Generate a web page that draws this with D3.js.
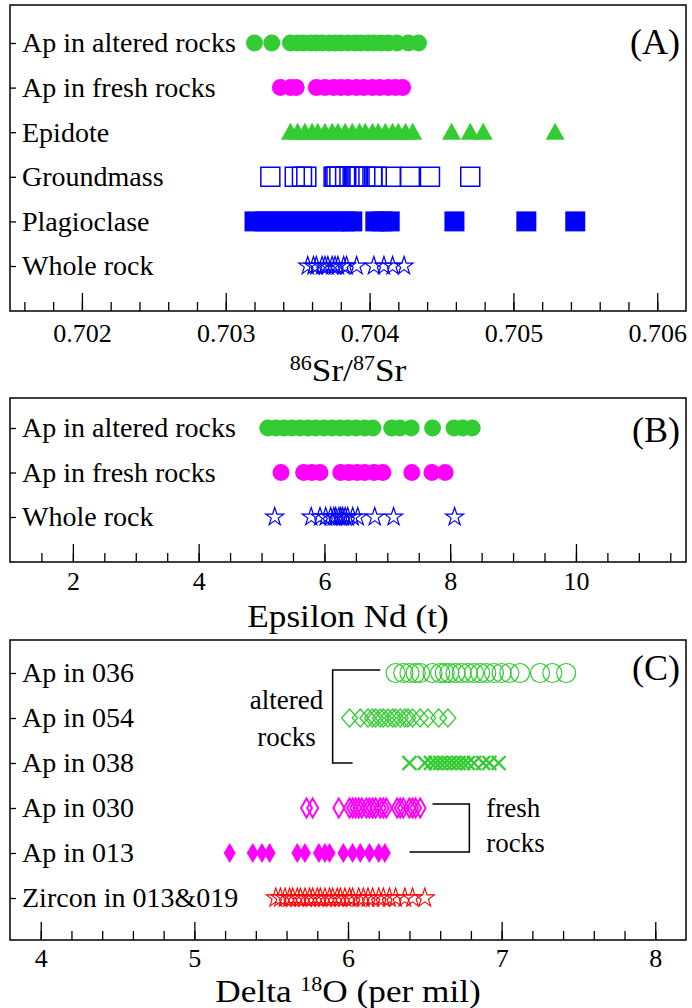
<!DOCTYPE html>
<html><head><meta charset="utf-8">
<script src="https://cdn.jsdelivr.net/npm/d3@7"></script>
<style>body{margin:0;background:#fff} svg text{font-family:"Liberation Serif","Times New Roman",Times,"Nimbus Roman","DejaVu Serif",serif !important;fill:#000}</style>
</head><body><svg id="c" width="692" height="1008"></svg>
<script>
// ---------- DATA ----------
const srCategories = ["Ap in altered rocks","Ap in fresh rocks","Epidote","Groundmass","Plagioclase","Whole rock"];
const srApAltered = [0.70320,0.70332,0.70345,0.70350,0.70354,0.70359,0.70363,0.70367,0.70372,0.70376,0.70380,0.70385,0.70390,0.70394,0.70399,0.70403,0.70408,0.70413,0.70419,0.70427,0.70434];
const srApFresh = [0.70338,0.70345,0.70349,0.70363,0.70369,0.70375,0.70380,0.70385,0.70391,0.70396,0.70402,0.70407,0.70413,0.70418,0.70423];
const srEpidote = [0.70345,0.70350,0.70355,0.70360,0.70364,0.70369,0.70374,0.70378,0.70383,0.70388,0.70393,0.70397,0.70402,0.70406,0.70411,0.70416,0.70420,0.70425,0.70430,0.70457,0.70470,0.70479,0.70529];
const srGroundmass = [0.70331,0.70348,0.70353,0.70356,0.70375,0.70376,0.70377,0.70379,0.70383,0.70386,0.70390,0.70391,0.70393,0.70397,0.70402,0.70405,0.70415,0.70428,0.70442,0.70470];
const srPlagioclase = [0.70320,0.70327,0.70334,0.70341,0.70348,0.70355,0.70362,0.70369,0.70376,0.70383,0.70388,0.70404,0.70409,0.70414,0.70459,0.70509,0.70543];
const srWholeRock = [0.70357,0.70361,0.70363,0.70367,0.70369,0.70371,0.70374,0.70376,0.70378,0.70382,0.70384,0.70391,0.70403,0.70410,0.70416,0.70424];
const srTicks = [0.702,0.703,0.704,0.705,0.706];

const ndCategories = ["Ap in altered rocks","Ap in fresh rocks","Whole rock"];
const ndApAltered = [5.10,5.23,5.36,5.48,5.61,5.74,5.86,5.99,6.12,6.25,6.37,6.50,6.64,6.77,7.07,7.20,7.38,7.72,8.06,8.20,8.35];
const ndApFresh = [5.31,5.67,5.80,5.93,6.26,6.39,6.52,6.64,6.79,6.93,7.39,7.71,7.92];
const ndWholeRock = [5.21,5.79,5.93,6.02,6.10,6.15,6.18,6.23,6.26,6.29,6.33,6.37,6.45,6.53,6.80,7.10,8.07];
const ndTicks = [2,4,6,8,10];

const oCategories = ["Ap in 036","Ap in 054","Ap in 038","Ap in 030","Ap in 013","Zircon in 013&019"];
const oAp036 = [6.31,6.36,6.40,6.44,6.47,6.55,6.60,6.63,6.66,6.70,6.74,6.78,6.82,6.86,6.90,6.95,7.00,7.05,7.12,7.25,7.33,7.42];
const oAp054 = [6.01,6.08,6.13,6.16,6.18,6.21,6.23,6.26,6.29,6.31,6.34,6.37,6.39,6.42,6.47,6.52,6.59,6.65];
const oAp038 = [6.40,6.50,6.54,6.57,6.60,6.63,6.66,6.69,6.72,6.75,6.78,6.82,6.88,6.92,6.98];
const oAp030 = [5.73,5.77,5.94,6.01,6.03,6.05,6.07,6.09,6.12,6.14,6.16,6.18,6.21,6.23,6.25,6.32,6.34,6.36,6.40,6.42,6.44,6.47];
const oAp013 = [5.23,5.38,5.44,5.49,5.67,5.72,5.81,5.85,5.88,5.97,6.03,6.08,6.14,6.20,6.24];
const oZircon = [5.53,5.56,5.59,5.62,5.64,5.67,5.69,5.72,5.75,5.77,5.80,5.82,5.85,5.88,5.90,5.93,5.95,5.98,6.01,6.03,6.07,6.10,6.13,6.16,6.20,6.23,6.27,6.31,6.37,6.42,6.50];
const oTicks = [4,5,6,7,8];

// ---------- SHAPES ----------
const GREEN = "#33cc33", MAGENTA = "#ff00ff", BLUE = "#0000ff", RED = "#ff0000";
const FONT = '"Liberation Serif","Times New Roman",Times,serif';
function starPath(R){ const r=R*0.382; let p=""; for(let i=0;i<10;i++){const a=-Math.PI/2+i*Math.PI/5; const rr=i%2?r:R; p+=(i?"L":"M")+(rr*Math.cos(a)).toFixed(2)+","+(rr*Math.sin(a)).toFixed(2);} return p+"Z"; }
function diamondPath(w,h){ return `M0,${-h/2}L${w/2},0L0,${h/2}L${-w/2},0Z`; }
function trianglePath(w,h){ return `M0,${-h*0.55}L${w/2},${h*0.45}L${-w/2},${h*0.45}Z`; }
function squarePath(s){ return `M${-s/2},${-s/2}h${s}v${s}h${-s}Z`; }
function circlePath(r){ return `M${r},0A${r},${r} 0 1,1 ${-r},0A${r},${r} 0 1,1 ${r},0Z`; }
function crossPath(s){ const h=s/2; return `M${-h},${-h}L${h},${h}M${h},${-h}L${-h},${h}`; }

const svg = d3.select("#c");
const L = 10, R = 686;

function panel(cfg){
  const g = svg.append("g");
  const x = d3.scaleLinear().domain(cfg.domain).range([L,R]);
  const y = d3.scalePoint().domain(cfg.categories).range(cfg.rowRange);
  cfg.series.forEach(s=>{
    g.append("g").selectAll("path").data(s.values).join("path")
      .attr("d", s.shape)
      .attr("transform", d=>`translate(${x(d)},${y(s.cat)+(s.dy||0)})`)
      .attr("fill", s.fill).attr("stroke", s.stroke||"none").attr("stroke-width", s.sw||0);
  });
  g.append("rect").attr("x",L).attr("y",cfg.top).attr("width",R-L).attr("height",cfg.bottom-cfg.top)
    .attr("fill","none").attr("stroke","#000").attr("stroke-width",1.5);
  const n = Math.round((cfg.domain[1]-cfg.domain[0])/cfg.minorStep);
  const start = Math.ceil(cfg.domain[0]/cfg.minorStep);
  const minors = d3.range(start, start+n+1).map(k=>+(k*cfg.minorStep).toFixed(6)).filter(v=>v>cfg.domain[0]&&v<cfg.domain[1]);
  const minorG = g.append("g").attr("transform",`translate(0,${cfg.bottom})`)
    .call(d3.axisBottom(x).tickValues(minors).tickSizeInner(-9).tickSizeOuter(0).tickFormat(""));
  minorG.select(".domain").remove();
  const majorG = g.append("g").attr("transform",`translate(0,${cfg.bottom})`)
    .call(d3.axisBottom(x).tickValues(cfg.ticks).tickSizeInner(-18).tickSizeOuter(0).tickPadding(cfg.pad).tickFormat(cfg.fmt));
  majorG.select(".domain").remove();
  g.selectAll(".tick line").attr("stroke","#000").attr("stroke-width",1.3);
  majorG.selectAll(".tick text").attr("font-size",26).attr("font-family",FONT);
  const yg = g.append("g").attr("transform",`translate(${L},0)`)
    .call(d3.axisRight(y).tickSizeInner(6).tickSizeOuter(0).tickPadding(6));
  yg.select(".domain").remove();
  yg.selectAll(".tick line").attr("stroke","#000").attr("stroke-width",1.3);
  yg.selectAll(".tick text").attr("font-size",28).attr("font-family",FONT).attr("fill","#000");
  g.append("text").attr("x",680).attr("y",cfg.top+cfg.letterDy).attr("text-anchor","end").attr("font-size",36).attr("font-family",FONT).text(cfg.letter);
  return {g,x,y};
}
function title(g, yPos){
  return g.append("text").attr("transform",`translate(348,${yPos}) scale(1.1,1)`)
    .attr("text-anchor","middle").attr("font-size",32).attr("font-family",FONT);
}

// Panel A
const A = panel({
  domain:[0.7015,0.7062], categories:srCategories, rowRange:[43,266], top:5, bottom:311,
  ticks:srTicks, minorStep:0.0002, fmt:d3.format(".3f"), pad:13, letter:"(A)", letterDy:49,
  series:[
    {cat:srCategories[0], values:srApAltered, shape:circlePath(8.5), fill:GREEN},
    {cat:srCategories[1], values:srApFresh, shape:circlePath(8.5), fill:MAGENTA},
    {cat:srCategories[2], values:srEpidote, shape:trianglePath(19,17), fill:GREEN},
    {cat:srCategories[3], values:srGroundmass, shape:squarePath(19), fill:"none", stroke:BLUE, sw:1.5},
    {cat:srCategories[4], values:srPlagioclase, shape:squarePath(20), fill:BLUE},
    {cat:srCategories[5], values:srWholeRock, shape:starPath(9.5), fill:"none", stroke:BLUE, sw:1.2}
  ]
});
const tA = title(A.g, 381);
tA.append("tspan").attr("font-size",20).attr("dy",-11).text("86");
tA.append("tspan").attr("dy",11).text("Sr/");
tA.append("tspan").attr("font-size",20).attr("dy",-11).text("87");
tA.append("tspan").attr("dy",11).text("Sr");

// Panel B
const B = panel({
  domain:[1,11.75], categories:ndCategories, rowRange:[428,517], top:398, bottom:562,
  ticks:ndTicks, minorStep:0.5, fmt:d3.format("d"), pad:10, letter:"(B)", letterDy:44,
  series:[
    {cat:ndCategories[0], values:ndApAltered, shape:circlePath(8.5), fill:GREEN},
    {cat:ndCategories[1], values:ndApFresh, shape:circlePath(8.5), fill:MAGENTA},
    {cat:ndCategories[2], values:ndWholeRock, shape:starPath(9.5), fill:"none", stroke:BLUE, sw:1.2}
  ]
});
title(B.g, 627).text("Epsilon Nd (t)");

// Panel C
const C = panel({
  domain:[3.8,8.2], categories:oCategories, rowRange:[673,898], top:640, bottom:940,
  ticks:oTicks, minorStep:0.2, fmt:d3.format("d"), pad:9, letter:"(C)", letterDy:40,
  series:[
    {cat:oCategories[0], values:oAp036, shape:circlePath(9.5), fill:"none", stroke:GREEN, sw:1.2},
    {cat:oCategories[1], values:oAp054, shape:diamondPath(16,18), fill:"none", stroke:GREEN, sw:1.3},
    {cat:oCategories[2], values:oAp038, shape:crossPath(14), fill:"none", stroke:GREEN, sw:2.4},
    {cat:oCategories[3], values:oAp030, shape:diamondPath(11,19), fill:"none", stroke:MAGENTA, sw:1.9},
    {cat:oCategories[4], values:oAp013, shape:diamondPath(12,20), fill:MAGENTA},
    {cat:oCategories[5], values:oZircon, shape:starPath(10), fill:"none", stroke:RED, sw:1.1}
  ]
});
const tC = title(C.g, 1002);
tC.append("tspan").text("Delta ");
tC.append("tspan").attr("font-size",20).attr("dy",-11).text("18");
tC.append("tspan").attr("dy",11).text("O (per mil)");

// brackets
const xc = C.x, yc = C.y;
C.g.append("path").attr("fill","none").attr("stroke","#000").attr("stroke-width",1.5)
  .attr("d",`M${xc(6.21)},${yc(oCategories[0])-3}H${xc(5.90)}V${yc(oCategories[2])}H${xc(6.03)}`);
C.g.append("path").attr("fill","none").attr("stroke","#000").attr("stroke-width",1.5)
  .attr("d",`M${xc(6.55)},${yc(oCategories[3])-4}H${xc(6.79)}V${yc(oCategories[4])-1}H${xc(6.40)}`);
C.g.append("text").attr("x",xc(5.60)).attr("y",709).attr("text-anchor","middle").attr("font-size",27).attr("font-family",FONT).text("altered");
C.g.append("text").attr("x",xc(5.60)).attr("y",746).attr("text-anchor","middle").attr("font-size",27).attr("font-family",FONT).text("rocks");
C.g.append("text").attr("x",xc(6.90)).attr("y",817).attr("font-size",27).attr("font-family",FONT).text("fresh");
C.g.append("text").attr("x",xc(6.90)).attr("y",852).attr("font-size",27).attr("font-family",FONT).text("rocks");
</script></body></html>
